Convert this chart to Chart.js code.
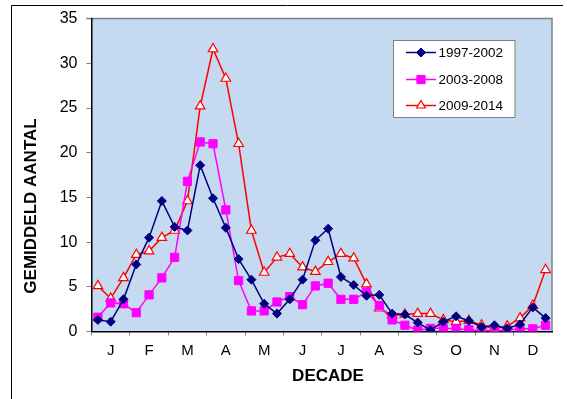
<!DOCTYPE html>
<html>
<head>
<meta charset="utf-8">
<script src="https://cdn.jsdelivr.net/npm/chart.js@4.4.1/dist/chart.umd.min.js"></script>
<style>
  html, body { margin: 0; padding: 0; background: #fff; }
  #wrap { width: 567px; height: 399px; position: relative; }
</style>
</head>
<body>
<div id="wrap"><canvas id="chart"></canvas></div>
<script>
'use strict';

// 36 decades: 3 per month
const months = ['J', 'F', 'M', 'A', 'M', 'J', 'J', 'A', 'S', 'O', 'N', 'D'];
const decades = [];
months.forEach((m, i) => { for (let d = 1; d <= 3; d++) decades.push(m + (i + 1) + '-' + d); });

const seriesNames = ['1997-2002', '2003-2008', '2009-2014'];

const values1997 = [1.3, 1.1, 3.6, 7.5, 10.5, 14.6, 11.7, 11.3, 18.6, 14.9, 11.6, 8.1,
                    5.8, 3.1, 2.0, 3.6, 5.8, 10.2, 11.5, 6.1, 5.2, 4.0, 4.1, 2.0,
                    1.9, 1.0, 0.15, 1.1, 1.7, 1.2, 0.5, 0.7, 0.35, 0.8, 2.7, 1.5];
const values2003 = [1.6, 3.2, 3.1, 2.1, 4.1, 6.0, 8.3, 16.8, 21.2, 21.0, 13.6, 5.7,
                    2.3, 2.3, 3.3, 3.9, 3.0, 5.1, 5.4, 3.6, 3.6, 4.4, 2.9, 1.3,
                    0.7, 0.15, 0.35, 0.35, 0.3, 0.2, 0.1, 0.1, 0.15, 0.3, 0.3, 0.7];
const values2009 = [5.1, 3.7, 6.0, 8.6, 9.0, 10.5, 11.3, 14.6, 25.2, 31.6, 28.3, 21.0,
                    11.3, 6.6, 8.3, 8.7, 7.2, 6.7, 7.8, 8.7, 8.2, 5.3, 2.6, 1.8,
                    1.9, 2.0, 2.0, 1.3, 1.1, 1.2, 0.7, 0.3, 0.6, 1.5, 2.9, 6.9];

const yTicks = [0, 5, 10, 15, 20, 25, 30, 35];

const FONT = 'Arial, "Liberation Sans", sans-serif';

// frame, plot background, axis titles and the boxed legend
const decorPlugin = {
    id: 'decor',
    beforeDraw(chart) {
        const { ctx, chartArea: a } = chart;
        ctx.save();
        ctx.strokeStyle = '#000';
        ctx.lineWidth = 1;
        ctx.beginPath();
        ctx.moveTo(563, 5.5);
        ctx.lineTo(11.5, 5.5);
        ctx.lineTo(11.5, 399);
        ctx.stroke();

        ctx.fillStyle = '#C5D9F1';
        ctx.fillRect(a.left, a.top, a.right - a.left, a.bottom - a.top);
        ctx.strokeStyle = '#808080';
        ctx.lineWidth = 1.5;
        ctx.beginPath();
        ctx.moveTo(a.left - 5, a.top);
        ctx.lineTo(a.right, a.top);
        ctx.lineTo(a.right, a.bottom);
        ctx.stroke();
        ctx.restore();
    },
    afterDraw(chart) {
        const { ctx } = chart;
        ctx.save();
        ctx.fillStyle = '#000';
        ctx.font = 'bold 17px ' + FONT;
        ctx.textAlign = 'center';
        ctx.textBaseline = 'middle';
        ctx.fillText('DECADE', 328, 376);
        ctx.translate(31.5, 206);
        ctx.rotate(-Math.PI / 2);
        ctx.fillText('GEMIDDELD AANTAL', 0, 0);
        ctx.restore();

        // legend
        ctx.save();
        ctx.fillStyle = '#fff';
        ctx.fillRect(393.5, 40.5, 121.5, 77);
        ctx.strokeStyle = '#808080';
        ctx.lineWidth = 1;
        ctx.strokeRect(393.5, 40.5, 121.5, 77);
        const rows = [52.5, 79.5, 105.5];
        chart.data.datasets.forEach((ds, i) => {
            const y = rows[i];
            ctx.strokeStyle = ds.borderColor;
            ctx.lineWidth = 1.5;
            ctx.beginPath();
            ctx.moveTo(406, y);
            ctx.lineTo(436, y);
            ctx.stroke();

            ctx.fillStyle = ds.pointBackgroundColor;
            ctx.strokeStyle = ds.pointBorderColor;
            ctx.lineWidth = ds.pointBorderWidth;
            Chart.helpers.drawPoint(ctx, {
                pointStyle: ds.pointStyle,
                radius: ds.legendRadius,
                rotation: 0,
                borderWidth: ds.pointBorderWidth
            }, 421, y);

            ctx.fillStyle = '#000';
            ctx.font = '13.5px ' + FONT;
            ctx.textAlign = 'left';
            ctx.textBaseline = 'middle';
            ctx.fillText(ds.label, 438.5, y + 0.5);
        });
        ctx.restore();
    }
};

const chart = new Chart(document.getElementById('chart'), {
    type: 'line',
    data: {
        labels: decades,
        datasets: [
            {
                label: seriesNames[0],
                data: values1997,
                borderColor: '#000080',
                backgroundColor: '#000080',
                borderWidth: 1.5,
                pointStyle: 'rectRot',
                pointRadius: 4.5,
                legendRadius: 4.5,
                pointBackgroundColor: '#000080',
                pointBorderColor: '#000080',
                pointBorderWidth: 1,
                tension: 0
            },
            {
                label: seriesNames[1],
                data: values2003,
                borderColor: '#FF00FF',
                backgroundColor: '#FF00FF',
                borderWidth: 1.5,
                pointStyle: 'rect',
                pointRadius: 5.8,
                legendRadius: 5.8,
                pointBackgroundColor: '#FF00FF',
                pointBorderColor: '#FF00FF',
                pointBorderWidth: 1,
                tension: 0
            },
            {
                label: seriesNames[2],
                data: values2009,
                borderColor: '#FF0000',
                backgroundColor: '#FFFFFF',
                borderWidth: 1.5,
                pointStyle: 'triangle',
                pointRadius: 5.5,
                legendRadius: 5,
                pointBackgroundColor: '#FFFFFF',
                pointBorderColor: '#FF0000',
                pointBorderWidth: 1.2,
                tension: 0
            }
        ]
    },
    options: {
        responsive: true,
        maintainAspectRatio: false,
        animation: false,
        layout: { padding: { left: 0, top: 17, right: 15, bottom: 0 } },
        plugins: {
            legend: { display: false },
            tooltip: { enabled: false }
        },
        scales: {
            x: {
                type: 'category',
                offset: true,
                afterFit(scale) { scale.height = 399 - 331.5; },
                border: { color: '#000', width: 1.5 },
                grid: {
                    offset: true,
                    drawOnChartArea: false,
                    drawTicks: true,
                    tickLength: 4,
                    tickColor: (c) => (c.index % 3 === 0 ? '#808080' : 'rgba(0,0,0,0)'),
                    color: 'rgba(0,0,0,0)'
                },
                ticks: {
                    autoSkip: false,
                    maxRotation: 0,
                    padding: 6,
                    color: '#000',
                    font: { family: FONT, size: 15 },
                    callback: (v, i) => (i % 3 === 1 ? months[Math.floor(i / 3)] : '')
                }
            },
            y: {
                min: yTicks[0],
                max: yTicks[yTicks.length - 1],
                afterFit(scale) { scale.width = 91.5; },
                afterBuildTicks(scale) { scale.ticks = yTicks.map(v => ({ value: v })); },
                border: { color: '#000', width: 1.5 },
                grid: {
                    drawOnChartArea: false,
                    drawTicks: true,
                    tickLength: 5,
                    tickColor: '#808080'
                },
                ticks: {
                    padding: 9,
                    color: '#000',
                    font: { family: FONT, size: 16 }
                }
            }
        }
    },
    plugins: [decorPlugin]
});
</script>
</body>
</html>
